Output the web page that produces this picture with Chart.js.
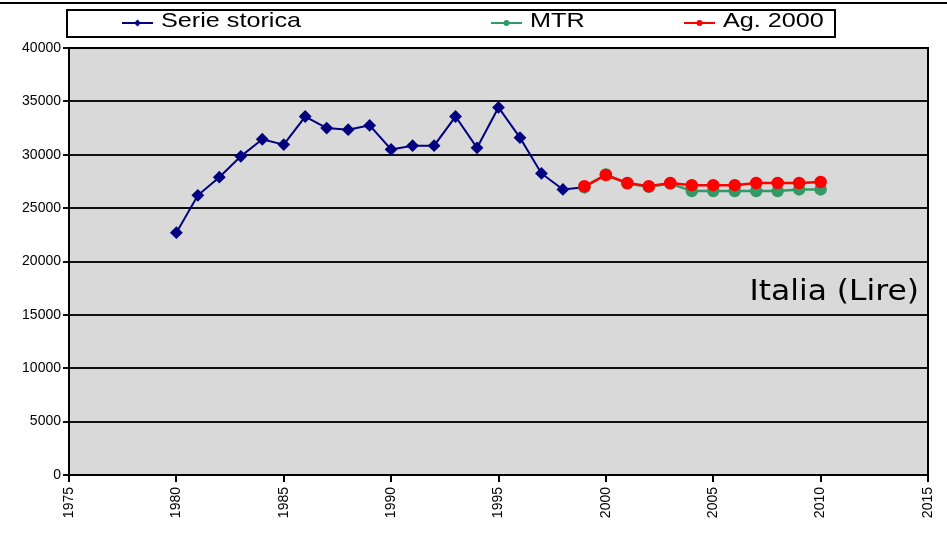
<!DOCTYPE html>
<html>
<head>
<meta charset="utf-8">
<script src="https://cdn.jsdelivr.net/npm/chart.js@4/dist/chart.umd.min.js"></script>
<style>
  html, body { margin: 0; padding: 0; background: #fff; }
  #wrap { width: 947px; height: 548px; }
</style>
</head>
<body>
<div id="wrap"><canvas id="chart" width="947" height="548"></canvas></div>
<script>
// data
const storicaYears = [1980, 1981, 1982, 1983, 1984, 1985, 1986, 1987, 1988, 1989,
                      1990, 1991, 1992, 1993, 1994, 1995, 1996, 1997, 1998, 1999];
const storicaValues = [22700, 26200, 27900, 29850, 31450, 30950, 33580, 32500, 32350, 32750,
                       30500, 30850, 30850, 33580, 30650, 34430, 31600, 28250, 26750, 26950];
const forecastYears = [1999, 2000, 2001, 2002, 2003, 2004, 2005, 2006, 2007, 2008, 2009, 2010];
const mtrValues = [26950, 28150, 27300, 27000, 27300, 26600, 26600, 26600, 26600, 26600, 26750, 26750];
const agValues = [27050, 28100, 27350, 27050, 27350, 27150, 27150, 27150, 27350, 27350, 27350, 27450];
const yTicks = [0, 5000, 10000, 15000, 20000, 25000, 30000, 35000, 40000];
const xTicks = [1975, 1980, 1985, 1990, 1995, 2000, 2005, 2010, 2015];

const toPoints = (xs, ys) => xs.map((x, i) => ({ x: x, y: ys[i] }));

// text a bit wider than the font draws it, like the stretched original
function wideText(ctx, text, x, y, sx, align) {
  ctx.save();
  ctx.translate(x, y);
  ctx.scale(sx, 1);
  ctx.textAlign = align;
  ctx.fillText(text, 0, 0);
  ctx.restore();
}

// grey plot area, frame, top rule, legend box and the "Italia (Lire)" note
const decorations = {
  id: "decorations",
  beforeDraw(chart) {
    const { ctx, chartArea: a } = chart;
    ctx.save();
    ctx.fillStyle = "#fff";
    ctx.fillRect(0, 0, chart.width, chart.height);
    ctx.fillStyle = "#d9d9d9";
    ctx.fillRect(a.left, a.top, a.right - a.left, a.bottom - a.top);
    ctx.restore();
  },
  afterDraw(chart) {
    const { ctx, chartArea: a } = chart;
    ctx.save();
    ctx.strokeStyle = "#000";
    ctx.lineWidth = 2;
    ctx.strokeRect(a.left, a.top, a.right - a.left, a.bottom - a.top);
    // rule at the very top (remains of a cropped title)
    ctx.beginPath();
    ctx.moveTo(0, 3);
    ctx.lineTo(chart.width, 3);
    ctx.stroke();
    // legend box
    ctx.fillStyle = "#fff";
    ctx.fillRect(67, 10, 768, 27);
    ctx.strokeRect(67, 10, 768, 27);
    const itemX = [122, 491, 684];
    ctx.font = "21px 'Liberation Sans', Arial, sans-serif";
    ctx.textBaseline = "alphabetic";
    chart.data.datasets.forEach((ds, i) => {
      const x = itemX[i], y = 23;
      ctx.strokeStyle = ds.borderColor;
      ctx.lineWidth = 2;
      ctx.beginPath();
      ctx.moveTo(x, y);
      ctx.lineTo(x + 31, y);
      ctx.stroke();
      ctx.fillStyle = ds.backgroundColor;
      ctx.beginPath();
      if (ds.pointStyle === "rectRot") {
        ctx.moveTo(x + 15.5, y - 3.5);
        ctx.lineTo(x + 19, y);
        ctx.lineTo(x + 15.5, y + 3.5);
        ctx.lineTo(x + 12, y);
      } else {
        ctx.arc(x + 15.5, y, 3, 0, Math.PI * 2);
      }
      ctx.fill();
      ctx.fillStyle = "#000";
      wideText(ctx, ds.label, x + 39, 27, 1.2, "left");
    });
    // note in the plot
    ctx.font = "28px 'DejaVu Sans', Verdana, sans-serif";
    ctx.fillStyle = "#000";
    wideText(ctx, "Italia (Lire)", a.right - 9, 300, 1.12, "right");
    ctx.restore();
  }
};

new Chart(document.getElementById("chart").getContext("2d"), {
  type: "line",
  data: {
    datasets: [
      {
        label: "Serie storica",
        data: toPoints(storicaYears, storicaValues),
        borderColor: "#000080",
        backgroundColor: "#000080",
        pointStyle: "rectRot",
        pointRadius: 5,
        pointHoverRadius: 5,
        borderWidth: 2,
        order: 2
      },
      {
        label: "MTR",
        data: toPoints(forecastYears, mtrValues),
        borderColor: "#339966",
        backgroundColor: "#339966",
        pointStyle: "circle",
        pointRadius: 5,
        pointHoverRadius: 5,
        borderWidth: 2.5,
        order: 1
      },
      {
        label: "Ag. 2000",
        data: toPoints(forecastYears, agValues),
        borderColor: "#ff0000",
        backgroundColor: "#ff0000",
        pointStyle: "circle",
        pointRadius: 5,
        pointHoverRadius: 5,
        borderWidth: 2.5,
        order: 0
      }
    ]
  },
  options: {
    responsive: false,
    animation: false,
    layout: { padding: { left: 0, top: 48, right: 19, bottom: 0 } },
    plugins: {
      legend: { display: false },
      tooltip: { enabled: false }
    },
    scales: {
      x: {
        type: "linear",
        min: 1975,
        max: 2015,
        afterBuildTicks: (axis) => { axis.ticks = xTicks.map((v) => ({ value: v })); },
        afterFit: (axis) => {
          axis.height = 73;
          axis.paddingLeft = 0;
          axis.paddingRight = 0;
        },
        ticks: {
          color: "#000",
          font: { family: "'Liberation Sans', Arial, sans-serif", size: 14 },
          minRotation: 90,
          maxRotation: 90,
          padding: 5,
          callback: (v) => String(v)
        },
        grid: { drawOnChartArea: false, drawTicks: true, tickLength: 7, color: "#000", lineWidth: 2 },
        border: { display: true, color: "#000", width: 2 }
      },
      y: {
        min: 0,
        max: 40000,
        afterBuildTicks: (axis) => { axis.ticks = yTicks.map((v) => ({ value: v })); },
        afterFit: (axis) => { axis.width = 69; },
        ticks: {
          color: "#000",
          font: { family: "'Liberation Sans', Arial, sans-serif", size: 14 },
          padding: 2,
          callback: (v) => String(v)
        },
        grid: { color: "#111", lineWidth: 2, drawTicks: true, tickLength: 6 },
        border: { display: true, color: "#000", width: 2 }
      }
    }
  },
  plugins: [decorations]
});
</script>
</body>
</html>
